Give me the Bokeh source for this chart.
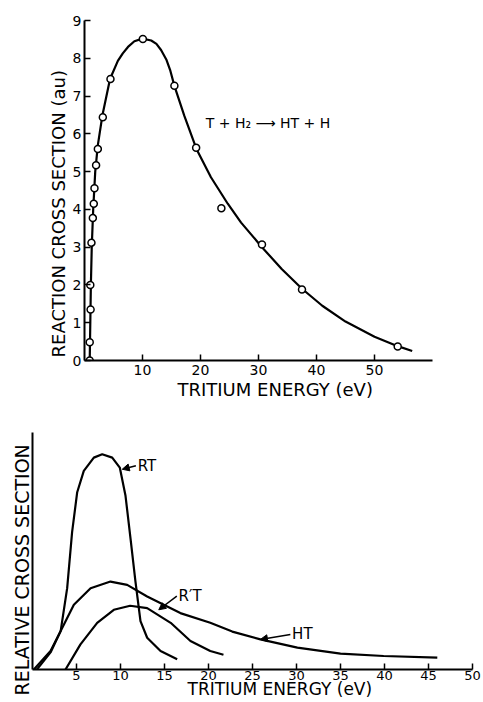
from bokeh.plotting import figure
from bokeh.models import FixedTicker, Range1d, Arrow, NormalHead, Label, Title
from bokeh.embed import file_html
from bokeh.resources import INLINE

# ---------------- data: upper panel ----------------
pts_x = [0.9, 0.9, 1.05, 1.0, 1.2, 1.44, 1.6, 1.72, 2.0, 2.3, 3.16, 4.48, 10.06, 15.5, 19.25, 23.6, 30.6, 37.5, 54.0]
pts_y = [0.0, 0.48, 1.35, 2.0, 3.12, 3.77, 4.15, 4.56, 5.17, 5.6, 6.44, 7.45, 8.51, 7.27, 5.63, 4.03, 3.07, 1.88, 0.37]

fit_x = [0.9, 1.0, 1.1, 1.25, 1.5, 1.85, 2.3, 3.1, 4.4, 5.75, 6.6, 7.5, 8.6, 10.0, 11.5, 12.4, 13.2, 14.1,
         14.8, 15.5, 17.2, 19.3, 21.8, 24.7, 27.0, 30.6, 34.0, 37.5, 41.0, 45.0, 50.0, 54.0, 56.5]
fit_y = [0.0, 1.0, 2.0, 3.0, 4.0, 5.0, 5.7, 6.5, 7.45, 7.93, 8.13, 8.3, 8.45, 8.52, 8.47, 8.38, 8.22, 7.97,
         7.67, 7.27, 6.48, 5.6, 4.85, 4.15, 3.65, 3.0, 2.42, 1.9, 1.45, 1.03, 0.63, 0.38, 0.25]

top_xticks = [10, 20, 30, 40, 50]
top_yticks = [0, 1, 2, 3, 4, 5, 6, 7, 8, 9]

# ---------------- data: lower panel ----------------
rt_x = [0.15, 2.05, 3.2, 3.94, 4.5, 5.08, 5.83, 6.97, 7.92, 9.06, 9.92, 10.57, 11.14, 11.7, 12.27, 13.03, 14.55, 16.44]
rt_y = [0.0, 0.078, 0.162, 0.343, 0.58, 0.748, 0.838, 0.894, 0.908, 0.894, 0.852, 0.733, 0.552, 0.371, 0.204, 0.134, 0.078, 0.043]

ht_x = [0.5, 2.05, 3.2, 4.7, 6.6, 8.86, 10.76, 13.03, 16.8, 20.2, 22.7, 25.9, 30.1, 35.0, 39.9, 46.0]
ht_y = [0.0, 0.072, 0.162, 0.273, 0.343, 0.371, 0.357, 0.308, 0.238, 0.197, 0.16, 0.127, 0.092, 0.067, 0.057, 0.05]

rpt_x = [3.75, 5.45, 7.35, 9.24, 11.1, 13.03, 15.7, 17.95, 20.2, 21.7]
rpt_y = [0.0, 0.106, 0.197, 0.252, 0.269, 0.259, 0.197, 0.12, 0.078, 0.062]

bot_xticks = [5, 10, 15, 20, 25, 30, 35, 40, 45, 50]

FONT = "DejaVu Sans"


def style_axes(p, tick_size):
    for ax in (p.xaxis[0], p.yaxis[0]):
        ax.axis_line_width = 2
        ax.axis_line_color = "black"
        ax.major_tick_in = 6
        ax.major_tick_out = 0
        ax.major_tick_line_width = 1.5
        ax.minor_tick_line_color = None
        ax.major_label_text_font = FONT
        ax.major_label_text_font_size = tick_size
        ax.major_label_text_color = "black"
    p.xgrid.grid_line_color = None
    p.ygrid.grid_line_color = None
    p.outline_line_color = None


def axis_title(p, text, side, size, offset, standoff):
    p.add_layout(Title(text=text, align="left", offset=offset, standoff=standoff,
                       text_font=FONT, text_font_size=size, text_font_style="normal",
                       text_color="black"), side)


def add_text(p, x, y, txt, size):
    p.add_layout(Label(x=x, y=y, text=txt, text_font=FONT, text_font_size=size,
                       text_baseline="middle", text_color="black"))


# ---------------- upper figure ----------------
p1 = figure(width=470, height=404, output_backend="svg", toolbar_location=None,
            x_range=Range1d(0, 60), y_range=Range1d(0, 9),
            min_border_left=84, min_border_right=38, min_border_top=20, min_border_bottom=44)
style_axes(p1, "14px")
p1.xaxis.ticker = FixedTicker(ticks=top_xticks)
p1.yaxis.ticker = FixedTicker(ticks=top_yticks)
p1.xaxis.major_label_standoff = 4
p1.yaxis.major_label_standoff = 3
axis_title(p1, "TRITIUM ENERGY (eV)", "below", "18px", 93, -2)
axis_title(p1, "REACTION CROSS SECTION (au)", "left", "18px", 3, 2)

p1.line(fit_x, fit_y, line_color="black", line_width=2.2)
p1.scatter(pts_x, pts_y, marker="circle", size=7, fill_color="white",
           line_color="black", line_width=1.5)

add_text(p1, 20.9, 6.3, "T + H\u2082 \u27f6 HT + H", "14px")

# ---------------- lower figure ----------------
p2 = figure(width=483, height=298, output_backend="svg", toolbar_location=None,
            x_range=Range1d(0, 50), y_range=Range1d(0, 1),
            min_border_left=32, min_border_right=11, min_border_top=28, min_border_bottom=33)
style_axes(p2, "13px")
p2.xaxis.ticker = FixedTicker(ticks=bot_xticks)
p2.yaxis.ticker = FixedTicker(ticks=[])
p2.xaxis.major_label_standoff = 1
axis_title(p2, "TRITIUM ENERGY (eV)", "below", "17px", 155, -12)
axis_title(p2, "RELATIVE CROSS SECTION", "left", "19px", -26, -1)

for xs, ys in ((rt_x, rt_y), (ht_x, ht_y), (rpt_x, rpt_y)):
    p2.line(xs, ys, line_color="black", line_width=2.2)

labels = [("RT", 11.75, 0.86, 10.2, 0.845),
          ("R\u2032T", 16.4, 0.31, 14.35, 0.252),
          ("HT", 29.3, 0.148, 25.9, 0.127)]
for txt, lx, ly, ax_, ay_ in labels:
    p2.add_layout(Arrow(end=NormalHead(size=7, fill_color="black", line_color="black"),
                        x_start=lx, y_start=ly, x_end=ax_, y_end=ay_,
                        line_width=1.5, line_color="black"))
    add_text(p2, lx + 0.2, ly, txt, "15px")

open("out.html", "w").write(file_html([p1, p2], INLINE))
